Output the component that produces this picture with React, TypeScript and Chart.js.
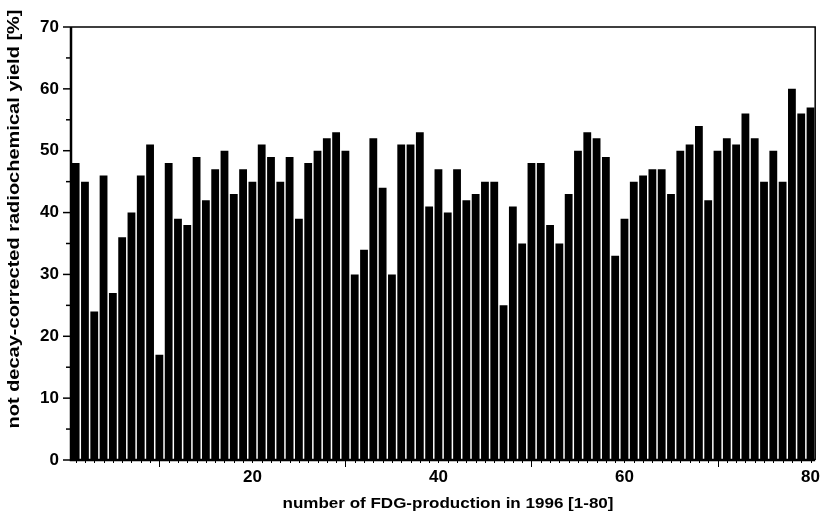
import React, { useEffect, useRef } from "react";
import { Chart, registerables } from "chart.js";

Chart.register(...registerables);

const productionNumbers: string[] = [
  "1","2","3","4","5","6","7","8","9","10",
  "11","12","13","14","15","16","17","18","19","20",
  "21","22","23","24","25","26","27","28","29","30",
  "31","32","33","34","35","36","37","38","39","40",
  "41","42","43","44","45","46","47","48","49","50",
  "51","52","53","54","55","56","57","58","59","60",
  "61","62","63","64","65","66","67","68","69","70",
  "71","72","73","74","75","76","77","78","79","80",
];

const yieldValues: number[] = [
  48, 45, 24, 46, 27, 36, 40, 46, 51, 17,
  48, 39, 38, 49, 42, 47, 50, 43, 47, 45,
  51, 49, 45, 49, 39, 48, 50, 52, 53, 50,
  30, 34, 52, 44, 30, 51, 51, 53, 41, 47,
  40, 47, 42, 43, 45, 45, 25, 41, 35, 48,
  48, 38, 35, 43, 50, 53, 52, 49, 33, 39,
  45, 46, 47, 47, 43, 50, 51, 54, 42, 50,
  52, 51, 56, 52, 45, 50, 45, 60, 56, 57,
];

const xLabelsShown: string[] = ["20", "40", "60", "80"];
const xMajorTicks: string[] = ["10", "30", "50", "70"];
const yTickValues: number[] = [0, 5, 10, 15, 20, 25, 30, 35, 40, 45, 50, 55, 60, 65, 70];

const yTitle = "not decay-corrected radiochemical yield [%]";
const xTitle = "number of FDG-production in 1996 [1-80]";

const FONT = "'Liberation Sans', Arial, sans-serif";

function drawStretchedText(
  ctx: CanvasRenderingContext2D,
  text: string,
  cx: number,
  cy: number,
  targetWidth: number,
  rotation: number,
  font: string
) {
  ctx.save();
  ctx.font = font;
  ctx.fillStyle = "#000";
  ctx.textAlign = "center";
  ctx.textBaseline = "middle";
  const natural = ctx.measureText(text).width;
  ctx.translate(cx, cy);
  ctx.rotate(rotation);
  ctx.scale(targetWidth / natural, 1);
  ctx.fillText(text, 0, 0);
  ctx.restore();
}

const axisDecor = {
  id: "axisDecor",
  afterDraw(chart: any) {
    const { ctx, chartArea } = chart;
    const xs = chart.scales.x;
    const ys = chart.scales.y;
    ctx.save();
    ctx.strokeStyle = "#000";
    // box
    ctx.lineWidth = 1.5;
    ctx.beginPath();
    ctx.moveTo(chartArea.left, chartArea.top);
    ctx.lineTo(chartArea.right, chartArea.top);
    ctx.lineTo(chartArea.right, chartArea.bottom);
    ctx.stroke();
    ctx.lineWidth = 2.5;
    ctx.beginPath();
    ctx.moveTo(chartArea.left, chartArea.top);
    ctx.lineTo(chartArea.left, chartArea.bottom);
    ctx.lineTo(chartArea.right, chartArea.bottom);
    ctx.stroke();
    // x ticks
    ctx.lineWidth = 1;
    productionNumbers.forEach((lab, i) => {
      const x = Math.round(xs.getPixelForTick(i)) + 0.5;
      const len = xMajorTicks.includes(lab) ? 7 : 3;
      ctx.beginPath();
      ctx.moveTo(x, chartArea.bottom);
      ctx.lineTo(x, chartArea.bottom + len);
      ctx.stroke();
    });
    // y ticks
    ctx.lineWidth = 1.5;
    yTickValues.forEach((v) => {
      const y = ys.getPixelForValue(v);
      const len = v % 10 === 0 ? 8 : 5;
      ctx.beginPath();
      ctx.moveTo(chartArea.left - len, y);
      ctx.lineTo(chartArea.left, y);
      ctx.stroke();
    });
    ctx.restore();

    // axis titles (stretched like the scanned original)
    drawStretchedText(ctx, xTitle, 448, 504, 331, 0, `bold 15px ${FONT}`);
    drawStretchedText(ctx, yTitle, 15, 219, 419, -Math.PI / 2, `bold 16px ${FONT}`);
  },
};

export default function App() {
  const canvasRef = useRef<HTMLCanvasElement | null>(null);

  useEffect(() => {
    if (!canvasRef.current) return;
    const chart = new Chart(canvasRef.current, {
      type: "bar",
      data: {
        labels: productionNumbers,
        datasets: [
          {
            data: yieldValues,
            backgroundColor: "#000",
            borderWidth: 0,
            categoryPercentage: 1,
            barPercentage: 0.84,
          },
        ],
      },
      options: {
        animation: false,
        responsive: false,
        maintainAspectRatio: false,
        layout: { padding: { top: 27, right: 3, left: 0, bottom: 0 } },
        plugins: {
          legend: { display: false },
          tooltip: { enabled: false },
        },
        scales: {
          x: {
            type: "category",
            grid: { display: false, drawTicks: false },
            border: { display: false },
            ticks: {
              autoSkip: false,
              maxRotation: 0,
              minRotation: 0,
              padding: 7,
              color: "#000",
              font: { family: FONT, size: 17, weight: "bold" },
              callback: (_v: any, i: number) =>
                xLabelsShown.includes(productionNumbers[i]) ? productionNumbers[i] : "",
            },
            title: { display: false },
            afterFit: (s: any) => {
              s.height = 53;
            },
          },
          y: {
            min: 0,
            max: 70,
            grid: { display: false, drawTicks: false },
            border: { display: false },
            ticks: {
              stepSize: 10,
              padding: 12,
              color: "#000",
              font: { family: FONT, size: 17, weight: "bold" },
            },
            title: { display: false },
            afterFit: (s: any) => {
              s.width = 71;
            },
          },
        },
      },
      plugins: [axisDecor],
    });
    return () => chart.destroy();
  }, []);

  return (
    <div style={{ position: "absolute", left: 0, top: 0, width: 827, height: 513, background: "#fff" }}>
      <canvas ref={canvasRef} width={827} height={513} style={{ display: "block" }} />
    </div>
  );
}
